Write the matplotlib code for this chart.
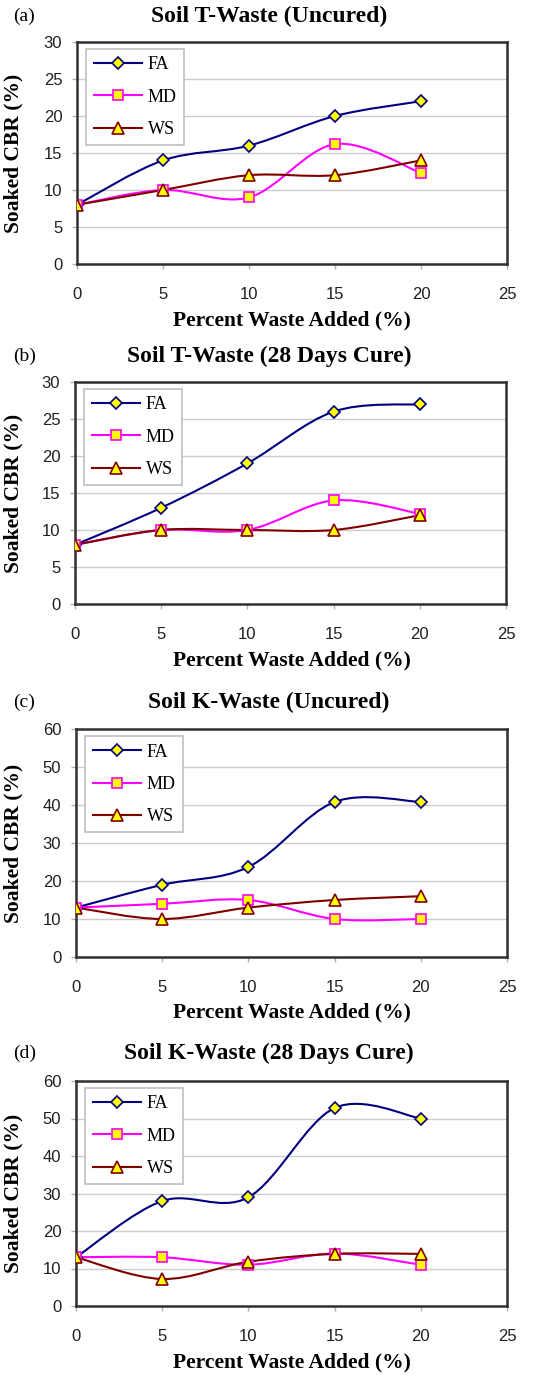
import numpy as np
import matplotlib
matplotlib.use("Agg")
import matplotlib.pyplot as plt
from matplotlib.path import Path
from matplotlib.patches import PathPatch
from matplotlib.lines import Line2D

# data
waste = [0, 5, 10, 15, 20]

t_uncured_fa = [8, 14, 16, 20, 22]
t_uncured_md = [8, 10, 9, 16.2, 12.3]
t_uncured_ws = [8, 10, 12, 12, 14]

t_cured_fa = [8, 13, 19, 26, 27]
t_cured_md = [8, 10, 10, 14, 12.2]
t_cured_ws = [8, 10, 10, 10, 12]

k_uncured_fa = [13, 19, 23.7, 40.8, 40.8]
k_uncured_md = [13, 14, 15, 10, 10]
k_uncured_ws = [13, 10, 13, 15, 16]

k_cured_fa = [13, 28, 29, 52.8, 50]
k_cured_md = [13, 13, 11, 14, 11]
k_cured_ws = [13, 7.2, 11.8, 13.9, 13.9]

series_names = ["FA", "MD", "WS"]
panel_tags = ["(a)", "(b)", "(c)", "(d)"]
panel_titles = ["Soil T-Waste (Uncured)", "Soil T-Waste (28 Days Cure)",
                "Soil K-Waste (Uncured)", "Soil K-Waste (28 Days Cure)"]
y_max = [30, 30, 60, 60]
y_step = [5, 5, 10, 10]

panels = [
    (t_uncured_fa, t_uncured_md, t_uncured_ws),
    (t_cured_fa, t_cured_md, t_cured_ws),
    (k_uncured_fa, k_uncured_md, k_uncured_ws),
    (k_cured_fa, k_cured_md, k_cured_ws),
]

W, H = 552, 1375
# axes boxes in pixels: left, top, right, bottom
boxes = [(77, 42, 507, 264), (75, 382, 506, 604),
         (76, 729, 507, 957), (76, 1081, 507, 1306)]
title_y = [16, 356, 702, 1053]
xlabel_y = [320, 660, 1012, 1362]

styles = [
    dict(color="#000080", marker="D", ms=6.5),
    dict(color="#ff00ff", marker="s", ms=7),
    dict(color="#800000", marker="^", ms=8),
]

serif = "Liberation Serif"
sans = "Liberation Sans"


def smooth_path(x, y):
    # Excel-like smoothed line: Catmull-Rom segments as cubic Beziers
    pts = np.column_stack([x, y]).astype(float)
    ext = np.vstack([pts[0], pts, pts[-1]])
    verts = [pts[0]]
    codes = [Path.MOVETO]
    for i in range(len(pts) - 1):
        p0, p1, p2, p3 = ext[i], ext[i + 1], ext[i + 2], ext[i + 3]
        verts += [p1 + (p2 - p0) / 6, p2 - (p3 - p1) / 6, p2]
        codes += [Path.CURVE4] * 3
    return Path(verts, codes)


fig = plt.figure(figsize=(W / 100, H / 100), dpi=100)

for k in range(4):
    l, t, r, b = boxes[k]
    ax = fig.add_axes([l / W, 1 - b / H, (r - l) / W, (b - t) / H])
    handles = []
    for vals, name, st in zip(panels[k], series_names, styles):
        ax.add_patch(PathPatch(smooth_path(waste, vals), fill=False,
                               edgecolor=st["color"], lw=1.5,
                               transform=ax.transData, zorder=2))
        ax.plot(waste, vals, ls="none", marker=st["marker"], ms=st["ms"],
                mfc="#ffff00", mec=st["color"], mew=1.2, zorder=3)
        handles.append(Line2D([], [], color=st["color"], lw=1.5,
                              marker=st["marker"], ms=st["ms"],
                              mfc="#ffff00", mec=st["color"], mew=1.2))

    ax.set_xlim(0, 25)
    ax.set_ylim(0, y_max[k])
    ax.set_xticks(np.arange(0, 26, 5))
    ax.set_yticks(np.arange(0, y_max[k] + 1, y_step[k]))
    ax.yaxis.grid(True, color="#cccccc", lw=1)
    ax.set_axisbelow(True)
    for sp in ax.spines.values():
        sp.set_color("#303030")
        sp.set_linewidth(1.8)
    ax.tick_params(axis="both", direction="out", length=3.6, width=1,
                   color="#b0b0b0", labelsize=12, labelcolor="#202020")
    ax.tick_params(axis="x", pad=13)
    ax.tick_params(axis="y", pad=7)
    for lab in ax.get_xticklabels() + ax.get_yticklabels():
        lab.set_fontfamily(sans)

    ax.set_ylabel("Soaked CBR (%)", fontfamily=serif, fontweight="bold",
                  fontsize=15.5)
    ax.yaxis.set_label_coords(-(l - 23) / (r - l), 0.5)

    leg = ax.legend(handles, series_names, loc="upper left",
                    bbox_to_anchor=(0.022, 0.968), fancybox=False,
                    framealpha=1, edgecolor="#c0c0c0", borderpad=0.4,
                    labelspacing=0.85, handlelength=2.7, handletextpad=0.3,
                    borderaxespad=0,
                    prop=dict(family=serif, size=13))
    leg.get_frame().set_linewidth(1.2)

    fig.text(269 / W, 1 - title_y[k] / H, panel_titles[k], ha="center",
             va="center", fontfamily=serif, fontweight="bold", fontsize=17)
    fig.text(13 / W, 1 - title_y[k] / H, panel_tags[k], ha="left",
             va="center", fontfamily=serif, fontsize=14)
    fig.text(292 / W, 1 - xlabel_y[k] / H, "Percent Waste Added (%)",
             ha="center", va="center", fontfamily=serif, fontweight="bold",
             fontsize=15.5)

fig.savefig("out.png", dpi=100)
